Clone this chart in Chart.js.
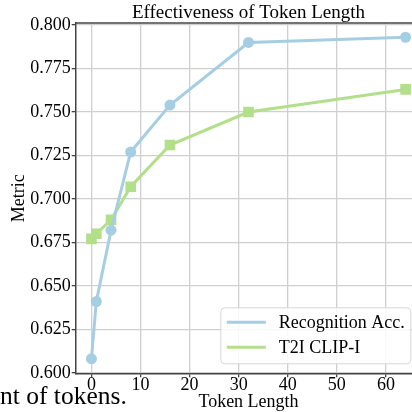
<!DOCTYPE html>
<html>
<head>
<meta charset="utf-8">
<script src="https://cdn.jsdelivr.net/npm/chart.js@4/dist/chart.umd.min.js"></script>
<style>
  html, body { margin: 0; padding: 0; background: #fff; width: 412px; height: 412px; overflow: hidden; }
  #wrap { position: absolute; left: 0; top: 0; width: 432px; height: 420px; }
  #note { position: absolute; left: 0; top: 383px; font: 25.5px 'Liberation Serif', serif; line-height: 1; color: #000; white-space: nowrap; }
</style>
</head>
<body>
<div id="wrap"><canvas id="chart"></canvas></div>
<div id="note">nt of tokens.</div>
<script>
// data
const tokenLengths = [0, 1, 4, 8, 16, 32, 64];
const recognitionAcc = [0.608, 0.641, 0.682, 0.727, 0.754, 0.790, 0.793];
const t2iClipI = [0.677, 0.680, 0.688, 0.707, 0.731, 0.750, 0.763];
const xTicks = [0, 10, 20, 30, 40, 50, 60];
const yTicks = [0.600, 0.625, 0.650, 0.675, 0.700, 0.725, 0.750, 0.775, 0.800];
const chartTitle = 'Effectiveness of Token Length';

const SERIF = "'Liberation Serif', 'Times New Roman', serif";
const BLUE = '#a6cee3';
const GREEN = '#b2df8a';

// title centred over the plot area, like matplotlib does
const axesTitle = {
  id: 'axesTitle',
  afterDraw(chart) {
    const { ctx, chartArea } = chart;
    ctx.save();
    ctx.font = '19px ' + SERIF;
    ctx.fillStyle = '#000';
    ctx.textAlign = 'center';
    ctx.textBaseline = 'alphabetic';
    ctx.fillText(chartTitle, (chartArea.left + chartArea.right) / 2, chartArea.top - 5);
    ctx.restore();
  }
};

// legend drawn inside the plot, lower right (matplotlib style)
const innerLegend = {
  id: 'innerLegend',
  afterDraw(chart) {
    const { ctx, chartArea } = chart;
    const sets = chart.data.datasets;
    ctx.save();
    ctx.font = '18px ' + SERIF;
    const textW = Math.max(...sets.map(d => ctx.measureText(d.label).width));
    const w = 6 + 39 + 13 + textW + 6;
    const h = 56;
    const right = chartArea.right - 10.5;
    const bottom = chartArea.bottom - 9.5;
    const left = right - w, top = bottom - h;
    ctx.beginPath();
    ctx.roundRect(left, top, w, h, 4);
    ctx.fillStyle = 'rgba(255,255,255,0.85)';
    ctx.fill();
    ctx.strokeStyle = '#d6d6d6';
    ctx.lineWidth = 1;
    ctx.stroke();
    sets.forEach((d, i) => {
      const y = top + 14.5 + i * 25;
      ctx.beginPath();
      ctx.moveTo(left + 6, y);
      ctx.lineTo(left + 45, y);
      ctx.strokeStyle = d.borderColor;
      ctx.lineWidth = 3;
      ctx.stroke();
      ctx.fillStyle = '#000';
      ctx.textBaseline = 'middle';
      ctx.fillText(d.label, left + 58, y + 1);
    });
    ctx.restore();
  }
};

// top spine
const topSpine = {
  id: 'topSpine',
  afterDatasetsDraw(chart) {
    const { ctx, chartArea } = chart;
    ctx.save();
    ctx.strokeStyle = '#444';
    ctx.lineWidth = 1.5;
    ctx.beginPath();
    ctx.moveTo(chartArea.left, chartArea.top);
    ctx.lineTo(chartArea.right, chartArea.top);
    ctx.stroke();
    ctx.restore();
  }
};

new Chart(document.getElementById('chart'), {
  type: 'line',
  data: {
    datasets: [{
      label: 'Recognition Acc.',
      data: tokenLengths.map((x, i) => ({ x, y: recognitionAcc[i] })),
      borderColor: BLUE,
      backgroundColor: BLUE,
      borderWidth: 3,
      pointStyle: 'circle',
      pointRadius: 5.5,
      pointBorderWidth: 0,
      tension: 0
    }, {
      label: 'T2I CLIP-I',
      data: tokenLengths.map((x, i) => ({ x, y: t2iClipI[i] })),
      borderColor: GREEN,
      backgroundColor: GREEN,
      borderWidth: 3,
      pointStyle: 'rect',
      pointRadius: 7.5,
      pointBorderWidth: 0,
      tension: 0
    }]
  },
  options: {
    responsive: true,
    maintainAspectRatio: false,
    animation: false,
    layout: { padding: { left: 0, right: 10.7, top: 23, bottom: 0 } },
    plugins: {
      legend: { display: false },
      tooltip: { enabled: false },
      title: { display: false }
    },
    scales: {
      x: {
        type: 'linear',
        min: -3.2,
        max: 67.2,
        afterBuildTicks: s => { s.ticks = xTicks.map(v => ({ value: v })); },
        afterFit: s => { s.height = 46.7; },
        ticks: {
          color: '#000',
          font: { family: SERIF, size: 18 },
          padding: -3,
          maxRotation: 0,
          callback: v => String(v)
        },
        grid: { color: '#cfcfcf', lineWidth: 1.3, tickColor: '#444', tickLength: 4 },
        border: { color: '#444', width: 1.5 },
        title: {
          display: true,
          text: 'Token Length',
          color: '#000',
          font: { family: SERIF, size: 18 },
          padding: { top: 0, bottom: 7.2 }
        }
      },
      y: {
        min: 0.5997,
        max: 0.8012,
        afterBuildTicks: s => { s.ticks = yTicks.map(v => ({ value: v })); },
        afterFit: s => { s.width = 75.7; },
        ticks: {
          color: '#000',
          font: { family: SERIF, size: 18 },
          padding: 1,
          callback: v => v.toFixed(3)
        },
        grid: { color: '#cfcfcf', lineWidth: 1.3, tickColor: '#444', tickLength: 4 },
        border: { color: '#444', width: 1.5 },
        title: {
          display: true,
          text: 'Metric',
          color: '#000',
          font: { family: SERIF, size: 18 },
          padding: { top: 8, bottom: 0 }
        }
      }
    }
  },
  plugins: [topSpine, axesTitle, innerLegend]
});
</script>
</body>
</html>
